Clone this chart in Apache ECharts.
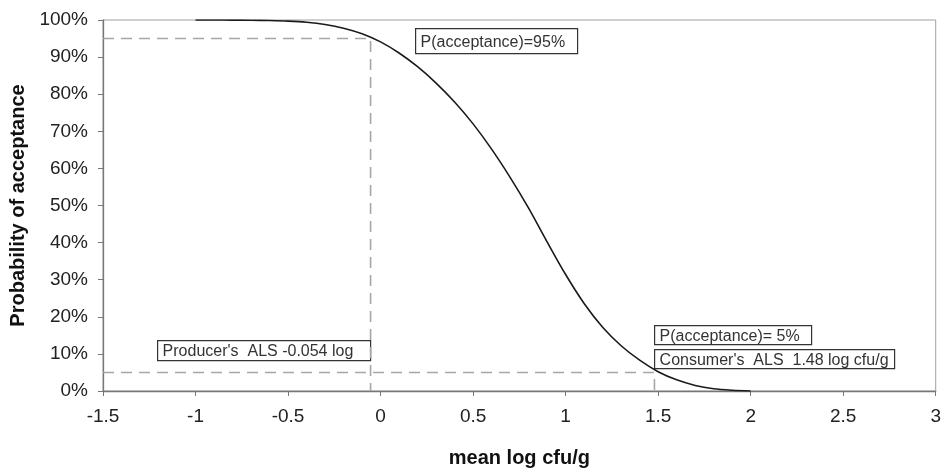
<!DOCTYPE html>
<html><head><meta charset="utf-8">
<script src="https://cdn.jsdelivr.net/npm/echarts@6/dist/echarts.min.js"></script>
<style>html,body{margin:0;padding:0;background:#fff}#c{width:944px;height:473px}</style>
</head><body><div id="c"></div>
<script>
// mean log cfu/g
const xValues = [-1,-0.9,-0.8,-0.7,-0.6,-0.5,-0.4,-0.3,-0.2,-0.1,0,0.1,0.2,0.3,0.4,0.5,0.6,0.7,0.8,0.9,1.0,1.1,1.2,1.3,1.4,1.5,1.6,1.7,1.8,1.9,2.0];
// probability of acceptance (%)
const pAccept = [100,99.99,99.97,99.93,99.85,99.7,99.4,98.8,97.8,96.3,94.1,91.1,87.4,83.0,77.9,72.0,65.2,57.6,49.3,40.2,31.4,23.6,17.2,12.2,8.3,5.2,3.0,1.5,0.6,0.2,0];
const producerALS = -0.054;
const consumerALS = 1.48;
const pHigh = 95;
const pLow = 5;
const xMin = -1.5, xMax = 3, xStep = 0.5;
const yMin = 0, yMax = 100, yStep = 10;
const labels = {
  high: 'P(acceptance)=95%',
  producer: "Producer's  ALS -0.054 log",
  low: 'P(acceptance)= 5%',
  consumer: "Consumer's  ALS  1.48 log cfu/g"
};

const curve = xValues.map((x, i) => [x, pAccept[i]]);
const refHigh = [[xMin, pHigh], [producerALS, pHigh], [producerALS, yMin]];
const refLow = [[xMin, pLow], [consumerALS, pLow], [consumerALS, yMin]];

const chart = echarts.init(document.getElementById('c'));
const font = 'Liberation Sans, Arial, sans-serif';
const dash = {color: '#a6a6a6', width: 1.6, type: [11, 7]};
function box(x, y, w, h, text) {
  return {
    type: 'group', left: x, top: y,
    children: [
      {type: 'rect', shape: {x: 0, y: 0, width: w, height: h}, style: {fill: '#fff', stroke: '#333', lineWidth: 1.2}},
      {type: 'text', x: 5, y: h / 2 + 1, style: {text: text, font: '16px ' + font, fill: '#333', verticalAlign: 'middle'}}
    ]
  };
}
chart.setOption({
  animation: false,
  backgroundColor: '#fff',
  grid: {left: 103, right: 7, top: 20, bottom: 81, show: true, borderColor: '#a0a0a0', borderWidth: 1},
  xAxis: {
    type: 'value', min: xMin, max: xMax, interval: xStep,
    name: 'mean log cfu/g', nameLocation: 'middle', nameGap: 57,
    nameTextStyle: {fontFamily: font, fontWeight: 'bold', fontSize: 20, color: '#111'},
    axisLine: {show: true, onZero: false, lineStyle: {color: '#777', width: 1.3}},
    axisTick: {show: true, length: 5, lineStyle: {color: '#777'}},
    axisLabel: {fontFamily: font, fontSize: 19, color: '#222', margin: 16},
    splitLine: {show: false}
  },
  yAxis: {
    type: 'value', min: yMin, max: yMax, interval: yStep,
    name: 'Probability of acceptance', nameLocation: 'middle', nameGap: 73,
    nameTextStyle: {fontFamily: font, fontWeight: 'bold', fontSize: 20, color: '#111'},
    axisLine: {show: true, onZero: false, lineStyle: {color: '#777', width: 1.3}},
    axisTick: {show: true, length: 5, lineStyle: {color: '#777'}},
    axisLabel: {fontFamily: font, fontSize: 19, color: '#222', margin: 15, formatter: v => v + '%'},
    splitLine: {show: false}
  },
  series: [
    {type: 'line', data: refHigh, symbol: 'none', lineStyle: dash, silent: true, z: 1},
    {type: 'line', data: refLow, symbol: 'none', lineStyle: dash, silent: true, z: 1},
    {type: 'line', data: curve, symbol: 'none', smooth: 0.3, lineStyle: {color: '#1a1a1a', width: 1.6}, z: 3}
  ],
  graphic: [
    box(415, 28, 162, 25, labels.high),
    box(157, 340, 213, 20, labels.producer),
    box(654, 325, 157, 19, labels.low),
    box(654, 349, 240, 19, labels.consumer)
  ]
});
</script></body></html>
